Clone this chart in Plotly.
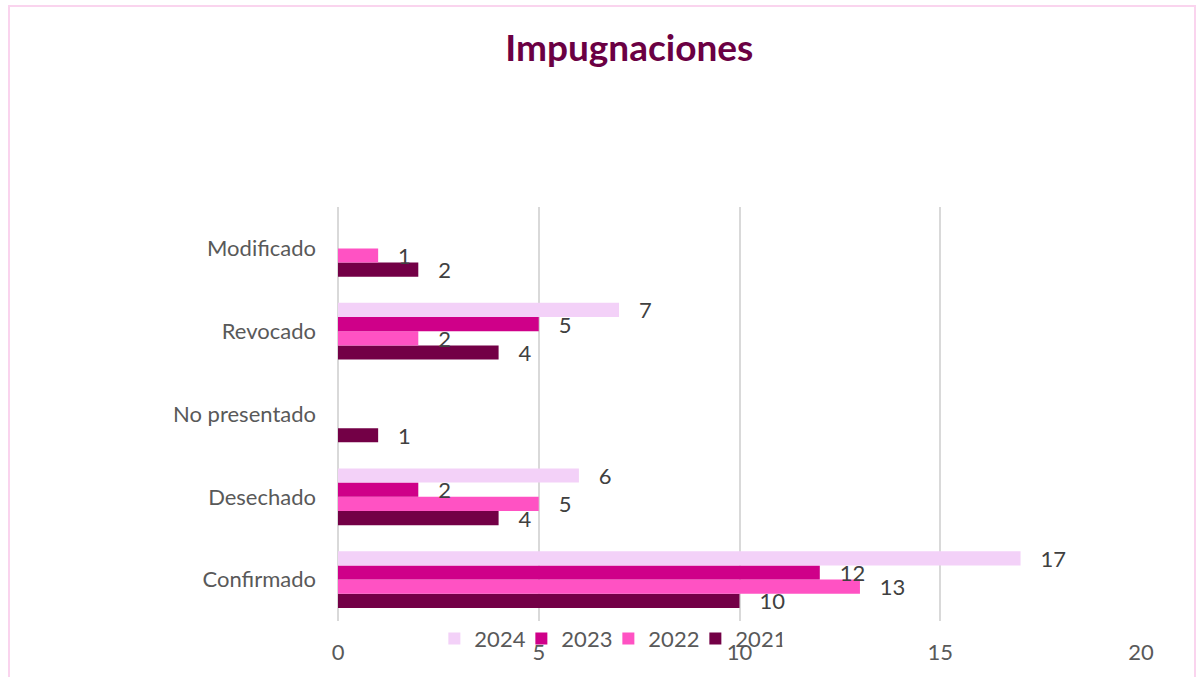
import plotly.graph_objects as go

# categories, bottom to top
categorias = ["Confirmado", "Desechado", "No presentado", "Revocado", "Modificado"]

# values per year (None = no bar)
v2021 = [10, 4, 1, 4, 2]
v2022 = [13, 5, None, 2, 1]
v2023 = [12, 2, None, 5, None]
v2024 = [17, 6, None, 7, None]

years = ["2021", "2022", "2023", "2024"]
series = [v2021, v2022, v2023, v2024]
colors = ["#730046", "#FF52C3", "#CF0089", "#F3D1F8"]

font_family = "Lato, 'Open Sans', sans-serif"
pad = "\u00a0\u00a0\u00a0"

fig = go.Figure()
for year, vals, col in zip(years, series, colors):
    fig.add_trace(go.Bar(
        y=categorias, x=vals, name=year, orientation="h",
        marker=dict(color=col, line=dict(width=0)),
        text=[pad + str(v) if v is not None else "" for v in vals],
        textposition="outside", constraintext="none",
        textfont=dict(size=22, color="#404040", family=font_family),
        cliponaxis=False,
    ))

fig.update_layout(
    width=1201, height=677,
    margin=dict(l=338, r=60, t=207, b=54),
    paper_bgcolor="white", plot_bgcolor="white",
    barmode="group", bargap=0.315, bargroupgap=0,
    font=dict(family=font_family, color="#595959", size=22),
    title=dict(text="<b>Impugnaciones</b>", x=0.524, xanchor="center",
               y=0.929, yanchor="middle",
               font=dict(size=37, color="#6B0043", family=font_family)),
    legend=dict(orientation="h", traceorder="reversed",
                x=0.12, xanchor="left", y=-0.043, yanchor="middle",
                font=dict(size=22, color="#595959"),
                entrywidth=42, entrywidthmode="pixels",
                itemwidth=30, bgcolor="rgba(0,0,0,0)"),
    showlegend=True,
)

fig.update_xaxes(range=[0, 20], dtick=5, tick0=0,
                 showgrid=True, gridcolor="#D9D9D9", gridwidth=2,
                 zeroline=True, zerolinecolor="#D9D9D9", zerolinewidth=2,
                 ticks="outside", ticklen=12, tickcolor="white",
                 tickfont=dict(size=22, color="#595959"))
fig.update_yaxes(categoryorder="array", categoryarray=categorias,
                 showgrid=False, zeroline=False, showline=False,
                 ticklabelstandoff=21,
                 tickfont=dict(size=22, color="#595959"))

# light pink chart border
fig.add_shape(type="rect", xref="paper", yref="paper",
              x0=(9 - 338) / 803, x1=(1195 - 338) / 803,
              y0=(623 - 690) / 416, y1=(623 - 5) / 416,
              line=dict(color="#FAD4EE", width=2), fillcolor="rgba(0,0,0,0)",
              layer="below")

fig.write_html("out.html", config={"displayModeBar": False},
               post_script="document.body.style.margin='0';")
